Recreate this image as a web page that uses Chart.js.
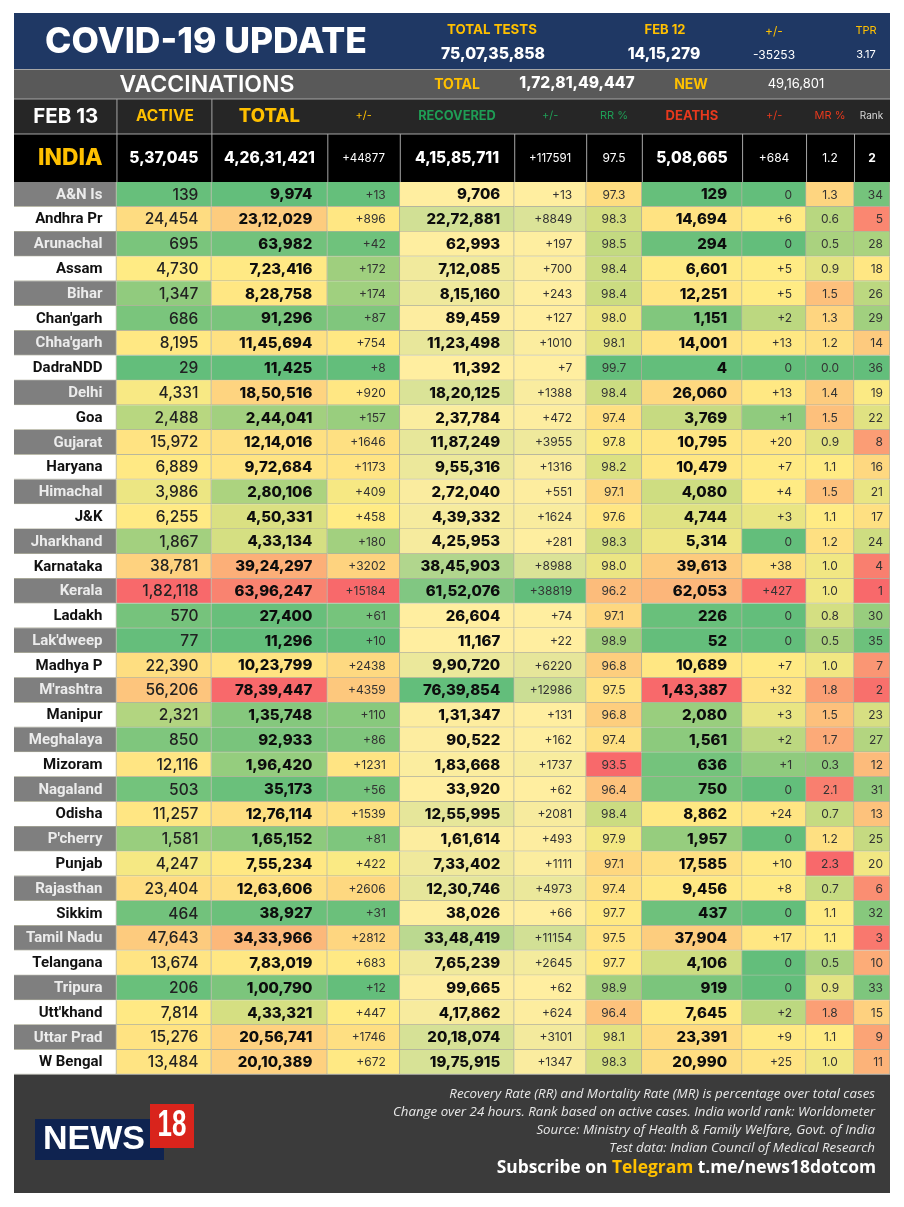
<!DOCTYPE html>
<html>
<head>
<meta charset="utf-8">
<title>COVID-19 Update</title>
<style>
  html, body { margin: 0; padding: 0; background: #fff; }
  canvas { display: block; }
</style>
</head>
<body>
<canvas id="covidTable" width="904" height="1207"></canvas>
<script src="https://cdn.jsdelivr.net/npm/chart.js@4/dist/chart.umd.min.js"></script>
<script>
const states = ["A&N Is","Andhra Pr","Arunachal","Assam","Bihar","Chan'garh","Chha'garh","DadraNDD","Delhi","Goa","Gujarat","Haryana","Himachal","J&K","Jharkhand","Karnataka","Kerala","Ladakh","Lak'dweep","Madhya P","M'rashtra","Manipur","Meghalaya","Mizoram","Nagaland","Odisha","P'cherry","Punjab","Rajasthan","Sikkim","Tamil Nadu","Telangana","Tripura","Utt'khand","Uttar Prad","W Bengal"];
const active = [139,24454,695,4730,1347,686,8195,29,4331,2488,15972,6889,3986,6255,1867,38781,182118,570,77,22390,56206,2321,850,12116,503,11257,1581,4247,23404,464,47643,13674,206,7814,15276,13484];
const total = [9974,2312029,63982,723416,828758,91296,1145694,11425,1850516,244041,1214016,972684,280106,450331,433134,3924297,6396247,27400,11296,1023799,7839447,135748,92933,196420,35173,1276114,165152,755234,1263606,38927,3433966,783019,100790,433321,2056741,2010389];
const totalChange = [13,896,42,172,174,87,754,8,920,157,1646,1173,409,458,180,3202,15184,61,10,2438,4359,110,86,1231,56,1539,81,422,2606,31,2812,683,12,447,1746,672];
const recovered = [9706,2272881,62993,712085,815160,89459,1123498,11392,1820125,237784,1187249,955316,272040,439332,425953,3845903,6152076,26604,11167,990720,7639854,131347,90522,183668,33920,1255995,161614,733402,1230746,38026,3348419,765239,99665,417862,2018074,1975915];
const recoveredChange = [13,8849,197,700,243,127,1010,7,1388,472,3955,1316,551,1624,281,8988,38819,74,22,6220,12986,131,162,1737,62,2081,493,1111,4973,66,11154,2645,62,624,3101,1347];
const recoveryRate = [97.3,98.3,98.5,98.4,98.4,98.0,98.1,99.7,98.4,97.4,97.8,98.2,97.1,97.6,98.3,98.0,96.2,97.1,98.9,96.8,97.5,96.8,97.4,93.5,96.4,98.4,97.9,97.1,97.4,97.7,97.5,97.7,98.9,96.4,98.1,98.3];
const deaths = [129,14694,294,6601,12251,1151,14001,4,26060,3769,10795,10479,4080,4744,5314,39613,62053,226,52,10689,143387,2080,1561,636,750,8862,1957,17585,9456,437,37904,4106,919,7645,23391,20990];
const deathsChange = [0,6,0,5,5,2,13,0,13,1,20,7,4,3,0,38,427,0,0,7,32,3,2,1,0,24,0,10,8,0,17,0,0,2,9,25];
const mortalityRate = [1.3,0.6,0.5,0.9,1.5,1.3,1.2,0.0,1.4,1.5,0.9,1.1,1.5,1.1,1.2,1.0,1.0,0.8,0.5,1.0,1.8,1.5,1.7,0.3,2.1,0.7,1.2,2.3,0.7,1.1,1.1,0.5,0.9,1.8,1.1,1.0];
const rank = [34,5,28,18,26,29,14,36,19,22,8,16,21,17,24,4,1,30,35,7,2,23,27,12,31,13,25,20,6,32,3,10,33,15,9,11];

// national row, same order as the columns
const indiaRow = ["5,37,045","4,26,31,421","+44877","4,15,85,711","+117591","97.5","5,08,665","+684","1.2","2"];

const GREEN = [99,190,123], YELLOW = [255,235,132], RED = [248,105,107], PALE = [255,238,160];
const NUM_FONT = 'Inter, "Open Sans", sans-serif';
const NAME_FONT = 'Roboto, "Open Sans", sans-serif';

function indian(n) {
    return n.toLocaleString('en-IN');
}
const plus = n => (n === 0 ? '0' : '+' + n);
const oneDecimal = n => n.toFixed(1);

function mix(a, b, t) {
    return 'rgb(' + a.map((c, i) => Math.round(c + (b[i] - c) * t)).join(',') + ')';
}

// Same idea as the spreadsheet colour scale: min, 50th percentile, max
function threeColour(values, low, high) {
    const sorted = [...values].sort((a, b) => a - b);
    const min = sorted[0], max = sorted[sorted.length - 1];
    const mid = (sorted[17] + sorted[18]) / 2;
    return values.map(v => v <= mid
        ? mix(low, YELLOW, mid === min ? 1 : (v - min) / (mid - min))
        : mix(YELLOW, high, (v - mid) / (max - mid)));
}
function twoColour(values) {
    const min = Math.min(...values), max = Math.max(...values);
    return values.map(v => mix(PALE, GREEN, (v - min) / (max - min)));
}

const columns = [
    { width: 102.5, values: states, text: s => s, colours: states.map((s, i) => i % 2 ? '#ffffff' : '#7f7f7f'), font: '700 15px ' + NAME_FONT, align: 'right', pad: 14 },
    { width: 95, values: active, text: indian, colours: threeColour(active, GREEN, RED), font: '500 15.5px ' + NUM_FONT, align: 'right', pad: 13, color: '#222' },
    { width: 116, values: total, text: indian, colours: threeColour(total, GREEN, RED), font: '800 15px ' + NUM_FONT, align: 'right', pad: 15, color: '#0d0d0d' },
    { width: 72.5, values: totalChange, text: plus, colours: threeColour(totalChange, GREEN, RED), font: '400 12px ' + NUM_FONT, align: 'right', pad: 14, color: '#333' },
    { width: 114.5, values: recovered, text: indian, colours: twoColour(recovered), font: '800 15px ' + NUM_FONT, align: 'right', pad: 14, color: '#0d0d0d' },
    { width: 72, values: recoveredChange, text: plus, colours: twoColour(recoveredChange), font: '400 12px ' + NUM_FONT, align: 'right', pad: 14, color: '#333' },
    { width: 55.7, values: recoveryRate, text: oneDecimal, colours: threeColour(recoveryRate, RED, GREEN), font: '400 12px ' + NUM_FONT, align: 'center', color: '#333' },
    { width: 100.3, values: deaths, text: indian, colours: threeColour(deaths, GREEN, RED), font: '800 15px ' + NUM_FONT, align: 'right', pad: 15, color: '#0d0d0d' },
    { width: 64, values: deathsChange, text: plus, colours: threeColour(deathsChange, GREEN, RED), font: '400 12px ' + NUM_FONT, align: 'right', pad: 14, color: '#333' },
    { width: 48, values: mortalityRate, text: oneDecimal, colours: threeColour(mortalityRate, GREEN, RED), font: '400 12px ' + NUM_FONT, align: 'center', color: '#333' },
    { width: 36, values: rank, text: String, colours: threeColour(rank, RED, GREEN), font: '400 12px ' + NUM_FONT, align: 'right', pad: 7, color: '#333' }
];

function label(ctx, str, x, y, font, color, align) {
    ctx.font = font;
    ctx.fillStyle = color;
    ctx.textAlign = align || 'center';
    ctx.textBaseline = 'middle';
    ctx.fillText(str, x, y);
}

// Banner, header row, India row and footer around the table
const framePlugin = {
    id: 'frame',
    beforeDatasetsDraw(chart) {
        const ctx = chart.ctx;
        const xs = chart.scales.x, ys = chart.scales.y;
        const L = xs.left, R = xs.right;
        const edges = [0];
        columns.forEach(c => edges.push(edges[edges.length - 1] + c.width));
        const edge = i => xs.getPixelForValue(edges[i]);
        const centre = i => (edge(i) + edge(i + 1)) / 2;
        const YEL = '#ffc000', WHITE = '#ffffff';
        ctx.save();

        // top banner
        ctx.fillStyle = '#1f3864';
        ctx.fillRect(L, 13, R - L, 56);
        ctx.fillStyle = '#595959';
        ctx.fillRect(L, 70, R - L, 29);
        ctx.fillStyle = '#262626';
        ctx.fillRect(L, 99, R - L, 35);
        ctx.fillStyle = '#000000';
        ctx.fillRect(L, 134, R - L, 48);
        ctx.fillStyle = '#a6a6a6';
        ctx.fillRect(L, 69, R - L, 1);
        ctx.fillRect(L, 98.5, R - L, 1);
        ctx.fillRect(L, 133.5, R - L, 1);
        ctx.fillRect(edge(1), 99, 1, 35);
        ctx.fillRect(edge(2), 99, 1, 35);
        for (let i = 1; i < columns.length; i++) ctx.fillRect(edge(i), 134, 1, 48);

        label(ctx, 'COVID-19 UPDATE', 206, 42, '800 35.5px ' + NUM_FONT, WHITE);
        label(ctx, 'TOTAL TESTS', 492, 30, '700 13.3px ' + NUM_FONT, YEL);
        label(ctx, '75,07,35,858', 493, 54, '800 15.8px ' + NUM_FONT, WHITE);
        label(ctx, 'FEB 12', 665, 30, '700 13px ' + NUM_FONT, YEL);
        label(ctx, '14,15,279', 664, 54, '800 15.6px ' + NUM_FONT, WHITE);
        label(ctx, '+/-', 774, 31, '400 12px ' + NUM_FONT, YEL);
        label(ctx, '-35253', 774, 55, '400 12px ' + NUM_FONT, WHITE);
        label(ctx, 'TPR', 866, 31, '400 11px ' + NUM_FONT, YEL);
        label(ctx, '3.17', 866, 55, '400 11px ' + NUM_FONT, WHITE);

        label(ctx, 'VACCINATIONS', 207, 85, '600 23px ' + NUM_FONT, WHITE);
        label(ctx, 'TOTAL', 457, 85, '700 14px ' + NUM_FONT, YEL);
        label(ctx, '1,72,81,49,447', 577, 83, '800 15.6px ' + NUM_FONT, WHITE);
        label(ctx, 'NEW', 691, 85, '700 14px ' + NUM_FONT, YEL);
        label(ctx, '49,16,801', 796, 84, '400 13px ' + NUM_FONT, WHITE);

        // column headers follow the x scale
        const HEAD_GREEN = '#1f9d55', HEAD_RED = '#e8391d';
        label(ctx, 'FEB 13', centre(0) + 0.5, 116.5, '700 20.5px ' + NUM_FONT, WHITE);
        label(ctx, 'ACTIVE', centre(1) + 1, 116.5, '700 15.5px ' + NUM_FONT, YEL);
        label(ctx, 'TOTAL', edge(2) + 58, 116.5, '800 18.5px ' + NUM_FONT, YEL);
        label(ctx, '+/-', centre(3), 116, '400 11px ' + NUM_FONT, YEL);
        label(ctx, 'RECOVERED', centre(4), 116, '700 12.8px ' + NUM_FONT, HEAD_GREEN);
        label(ctx, '+/-', centre(5), 116, '400 11px ' + NUM_FONT, HEAD_GREEN);
        label(ctx, 'RR %', centre(6), 116, '400 11px ' + NUM_FONT, HEAD_GREEN);
        label(ctx, 'DEATHS', centre(7), 116, '700 13px ' + NUM_FONT, HEAD_RED);
        label(ctx, '+/-', centre(8), 116, '400 11px ' + NUM_FONT, HEAD_RED);
        label(ctx, 'MR %', centre(9), 116, '400 11px ' + NUM_FONT, HEAD_RED);
        label(ctx, 'Rank', centre(10) - 0.5, 116, '400 10px ' + NUM_FONT, '#d9d9d9');

        // India row
        label(ctx, 'INDIA', centre(0) + 5, 158.5, '800 22.8px ' + NUM_FONT, YEL);
        const indiaFonts = ['800 15.6px ', '800 15.6px ', '400 11.5px ', '800 15.6px ', '400 11.5px ', '400 12px ', '800 15.6px ', '400 12px ', '400 12px ', '700 12px '];
        indiaRow.forEach((t, i) => label(ctx, t, centre(i + 1), 158.5, indiaFonts[i] + NUM_FONT, WHITE));

        // footer
        const fy = ys.bottom;
        ctx.fillStyle = '#3b3b3b';
        ctx.fillRect(L, fy, R - L, 1193 - fy);
        const note = 'italic 400 13.3px "Open Sans", Lato, sans-serif';
        const noteColour = '#e8e8e8';
        label(ctx, 'Recovery Rate (RR) and Mortality Rate (MR) is percentage over total cases', 875, fy + 20, note, noteColour, 'right');
        label(ctx, 'Change over 24 hours. Rank based on active cases. India world rank: Worldometer', 875, fy + 38, note, noteColour, 'right');
        label(ctx, 'Source: Ministry of Health & Family Welfare, Govt. of India', 875, fy + 56, note, noteColour, 'right');
        label(ctx, 'Test data: Indian Council of Medical Research', 875, fy + 73.5, note, noteColour, 'right');

        const subFont = '700 17.4px "Open Sans", sans-serif';
        ctx.font = subFont;
        let rx = 876;
        [['t.me/news18dotcom', WHITE], ['Telegram ', YEL], ['Subscribe on ', WHITE]].forEach(([t, col]) => {
            label(ctx, t, rx, fy + 94, subFont, col, 'right');
            rx -= ctx.measureText(t).width;
        });

        // News18 mark
        ctx.fillStyle = '#0f2350';
        ctx.fillRect(35, 1119, 129, 41);
        ctx.fillStyle = '#d9241c';
        ctx.fillRect(150, 1104, 44, 44);
        label(ctx, 'NEWS', 94, 1140, '700 34px "Liberation Sans", sans-serif', WHITE);
        ctx.save();
        ctx.translate(172, 1126);
        ctx.scale(0.72, 1);
        label(ctx, '18', 0, 0, '700 36px "Liberation Sans", sans-serif', WHITE);
        ctx.restore();

        ctx.restore();
    },
    afterDatasetsDraw(chart) {
        // cell text sits on the bars the library has just drawn
        const ctx = chart.ctx;
        ctx.save();
        columns.forEach((col, c) => {
            chart.getDatasetMeta(c).data.forEach((bar, row) => {
                const props = bar.getProps(['x', 'y', 'base'], true);
                const str = col.text(col.values[row]);
                const color = c === 0 ? (row % 2 ? '#111111' : '#ececec') : col.color;
                const x = col.align === 'center' ? (props.x + props.base) / 2 : props.x - col.pad;
                label(ctx, str, x, props.y + 0.5, col.font, color, col.align);
            });
        });
        ctx.restore();
    }
};

const ctx = document.getElementById('covidTable').getContext('2d');
new Chart(ctx, {
    type: 'bar',
    data: {
        labels: states,
        datasets: columns.map(col => ({
            data: states.map(() => col.width),
            backgroundColor: col.colours,
            borderColor: 'rgba(150,150,125,0.75)',
            borderWidth: { top: 0, left: 0, right: 1, bottom: 1 },
            borderSkipped: false,
            categoryPercentage: 1,
            barPercentage: 1
        }))
    },
    options: {
        indexAxis: 'y',
        responsive: false,
        animation: false,
        layout: { padding: { left: 14, right: 14, top: 182, bottom: 132.5 } },
        plugins: { legend: { display: false }, tooltip: { enabled: false } },
        scales: {
            x: { stacked: true, display: false, min: 0, max: columns.reduce((s, c) => s + c.width, 0) },
            y: { stacked: true, display: false }
        }
    },
    plugins: [framePlugin]
});
</script>
</body>
</html>
